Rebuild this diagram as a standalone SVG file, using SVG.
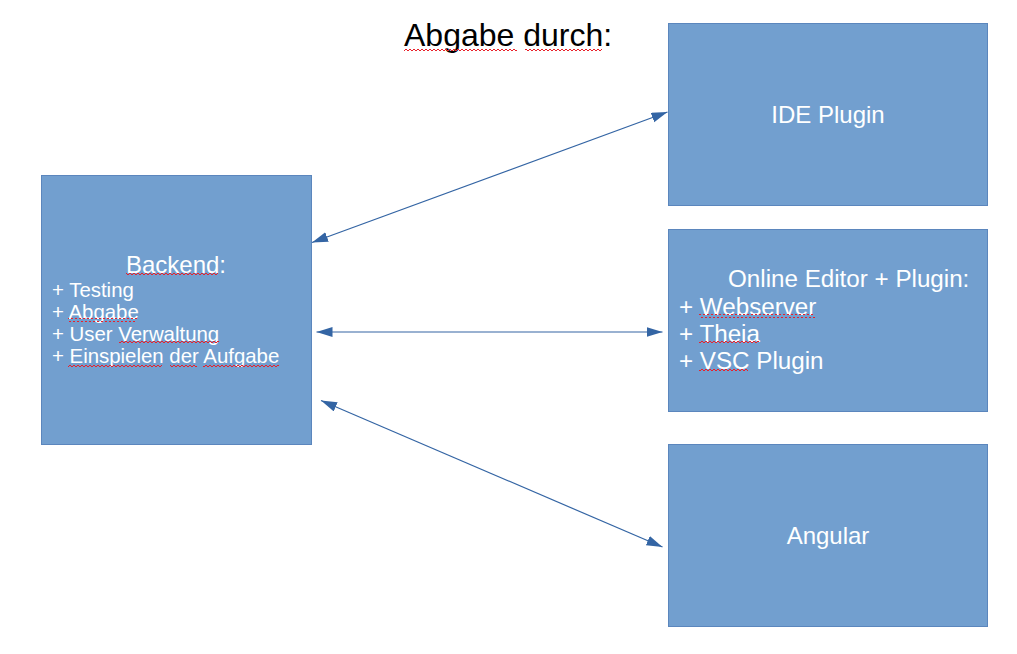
<svg xmlns="http://www.w3.org/2000/svg" width="1017" height="654" viewBox="0 0 1017 654">
<style>
.box{fill:#729fcf;stroke:#5b86bd;stroke-width:1}
.t{font-family:"Liberation Sans",Arial,sans-serif;fill:#ffffff}
.conn line{stroke:#3465a4;stroke-width:1.2;marker-start:url(#ah);marker-end:url(#ah)}
.sp{fill:url(#wave)}
</style>
<defs>
<marker id="ah" markerUnits="userSpaceOnUse" markerWidth="17" markerHeight="11" refX="16" refY="5" orient="auto-start-reverse">
<path d="M0,0 L16,5 L0,10 Z" fill="#3465a4"/>
</marker>
<pattern id="wave" patternUnits="userSpaceOnUse" width="4" height="4">
<path d="M0,3 L2,1 L4,3" fill="none" stroke="#e8202a" stroke-width="1"/>
</pattern>
</defs>
<rect width="1017" height="654" fill="#ffffff"/>
<g id="title">
<text x="404" y="46" font-family="Liberation Sans,Arial,sans-serif" font-size="32" fill="#000000">Abgabe durch:</text>
<rect class="sp" x="404" y="48" width="113" height="4"/>
<rect class="sp" x="525" y="48" width="77" height="4"/>
</g>
<g id="backend">
<rect class="box" x="41.5" y="175.5" width="270" height="269"/>
<text class="t" x="176" y="273" font-size="24" text-anchor="middle">Backend:</text>
<g class="t" font-size="20.4">
<text x="52" y="297">+ Testing</text>
<text x="52" y="319">+ Abgabe</text>
<text x="52" y="341">+ User Verwaltung</text>
<text x="52" y="363">+ Einspielen der Aufgabe</text>
</g>
<rect class="sp" x="126" y="272" width="92" height="4"/>
<rect class="sp" x="68" y="318" width="69" height="4"/>
<rect class="sp" x="119" y="341" width="100" height="4"/>
<rect class="sp" x="68" y="364" width="94" height="4"/>
<rect class="sp" x="170" y="364" width="27" height="4"/>
<rect class="sp" x="203" y="364" width="76" height="4"/>
</g>
<g id="ide">
<rect class="box" x="668.5" y="23.5" width="319" height="182"/>
<text class="t" x="828" y="123" font-size="24" text-anchor="middle">IDE Plugin</text>
</g>
<g id="online">
<rect class="box" x="668.5" y="229.5" width="319" height="182"/>
<g class="t" font-size="24.2">
<text x="728" y="287">Online Editor + Plugin:</text>
<text x="679" y="315">+ Webserver</text>
<text x="679" y="342">+ Theia</text>
<text x="679" y="369">+ VSC Plugin</text>
</g>
<rect class="sp" x="699" y="314" width="116" height="4"/>
<rect class="sp" x="699" y="341" width="60" height="4"/>
<rect class="sp" x="699" y="368" width="49" height="4"/>
</g>
<g id="angular">
<rect class="box" x="668.5" y="444.5" width="319" height="182"/>
<text class="t" x="828" y="544" font-size="24" text-anchor="middle">Angular</text>
</g>
<g id="connectors" class="conn">
<line x1="312" y1="242.5" x2="667.5" y2="112"/>
<line x1="316.5" y1="332" x2="662.5" y2="332"/>
<line x1="321" y1="400.5" x2="662.5" y2="547"/>
</g>
</svg>
